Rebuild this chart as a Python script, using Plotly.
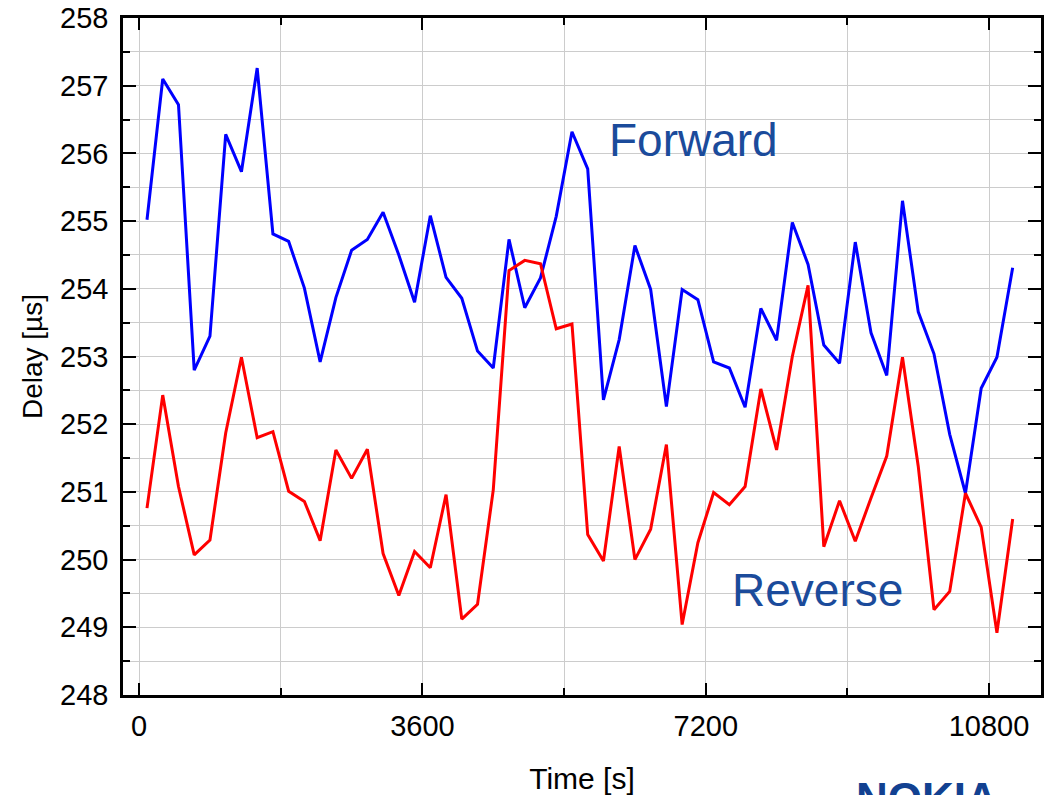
import plotly.graph_objects as go

time_s = [100 + 200 * i for i in range(56)]

forward = [255.02, 257.10, 256.72, 252.80, 253.30, 256.28, 255.73, 257.26, 254.81, 254.70,
           254.01, 252.92, 253.87, 254.57, 254.73, 255.13, 254.50, 253.80, 255.08, 254.17,
           253.86, 253.08, 252.83, 254.73, 253.72, 254.16, 255.07, 256.32, 255.77, 252.36,
           253.25, 254.64, 253.99, 252.26, 253.99, 253.84, 252.92, 252.83, 252.25, 253.71,
           253.24, 254.98, 254.36, 253.17, 252.90, 254.69, 253.35, 252.72, 255.30, 253.66,
           253.04, 251.85, 250.98, 252.53, 252.99, 254.31]

reverse = [250.76, 252.43, 251.08, 250.07, 250.29, 251.87, 252.99, 251.80, 251.89, 251.01,
           250.86, 250.28, 251.62, 251.20, 251.63, 250.09, 249.47, 250.12, 249.88, 250.96,
           249.12, 249.34, 251.03, 254.27, 254.42, 254.37, 253.41, 253.48, 250.37, 249.98,
           251.67, 250.00, 250.45, 251.70, 249.04, 250.25, 250.99, 250.81, 251.08, 252.52,
           251.62, 253.00, 254.05, 250.19, 250.87, 250.27, 250.91, 251.53, 252.99, 251.38,
           249.26, 249.53, 250.98, 250.48, 248.92, 250.60]

x_ticks = [0, 3600, 7200, 10800]

font_family = "Liberation Sans, Arial, sans-serif"
label_color = "#1b4b9b"

fig = go.Figure()
fig.add_trace(go.Scatter(x=time_s, y=forward, mode="lines", name="Forward",
                         line=dict(color="#0000ff", width=3)))
fig.add_trace(go.Scatter(x=time_s, y=reverse, mode="lines", name="Reverse",
                         line=dict(color="#ff0000", width=3)))

fig.add_annotation(x=7050, y=256.2, text="Forward", showarrow=False,
                   font=dict(family=font_family, size=46, color=label_color))
fig.add_annotation(x=8615, y=249.55, text="Reverse", showarrow=False,
                   font=dict(family=font_family, size=46, color=label_color))
fig.add_annotation(x=0.876, y=-0.114, xref="paper", yref="paper", text="<b>NOKIA</b>",
                   showarrow=False, yanchor="top", xanchor="center",
                   font=dict(family=font_family, size=44, color="#124191"))

fig.update_layout(
    width=1054, height=795,
    margin=dict(l=123, r=13, t=18, b=100),
    paper_bgcolor="white", plot_bgcolor="white",
    showlegend=False,
    font=dict(family=font_family, size=29, color="black"),
)

fig.update_xaxes(
    range=[-205, 11460], automargin=False,
    tickmode="array", tickvals=x_ticks, ticktext=[str(v) for v in x_ticks],
    ticks="inside", ticklen=12, tickwidth=2, tickcolor="black",
    showline=True, linewidth=2.5, linecolor="black", mirror="allticks",
    showgrid=True, gridcolor="#cccccc", gridwidth=1,
    minor=dict(dtick=1800, tick0=0, ticks="inside", ticklen=7, tickwidth=2,
               tickcolor="black", showgrid=True, gridcolor="#cccccc", gridwidth=1),
    zeroline=False,
    tickfont=dict(size=29),
    ticklabeloverflow="allow",
    ticklabelstandoff=3,
    title=dict(text="Time [s]", font=dict(size=30), standoff=33),
)
fig.update_yaxes(
    range=[248, 258], dtick=1, tick0=248, automargin=False,
    ticks="inside", ticklen=13, tickwidth=2, tickcolor="black",
    showline=True, linewidth=2.5, linecolor="black", mirror="allticks",
    showgrid=True, gridcolor="#cccccc", gridwidth=1,
    minor=dict(dtick=0.5, ticks="inside", ticklen=7, tickwidth=2,
               tickcolor="black", showgrid=True, gridcolor="#cccccc", gridwidth=1),
    zeroline=False,
    tickfont=dict(size=29),
    ticklabeloverflow="allow",
    ticklabelstandoff=6,
    title=dict(text="Delay [µs]", font=dict(size=28), standoff=10),
)

fig.write_html(
    "out.html",
    config={"displayModeBar": False},
    post_script="document.body.style.margin='0px';document.body.style.overflow='hidden';",
)
